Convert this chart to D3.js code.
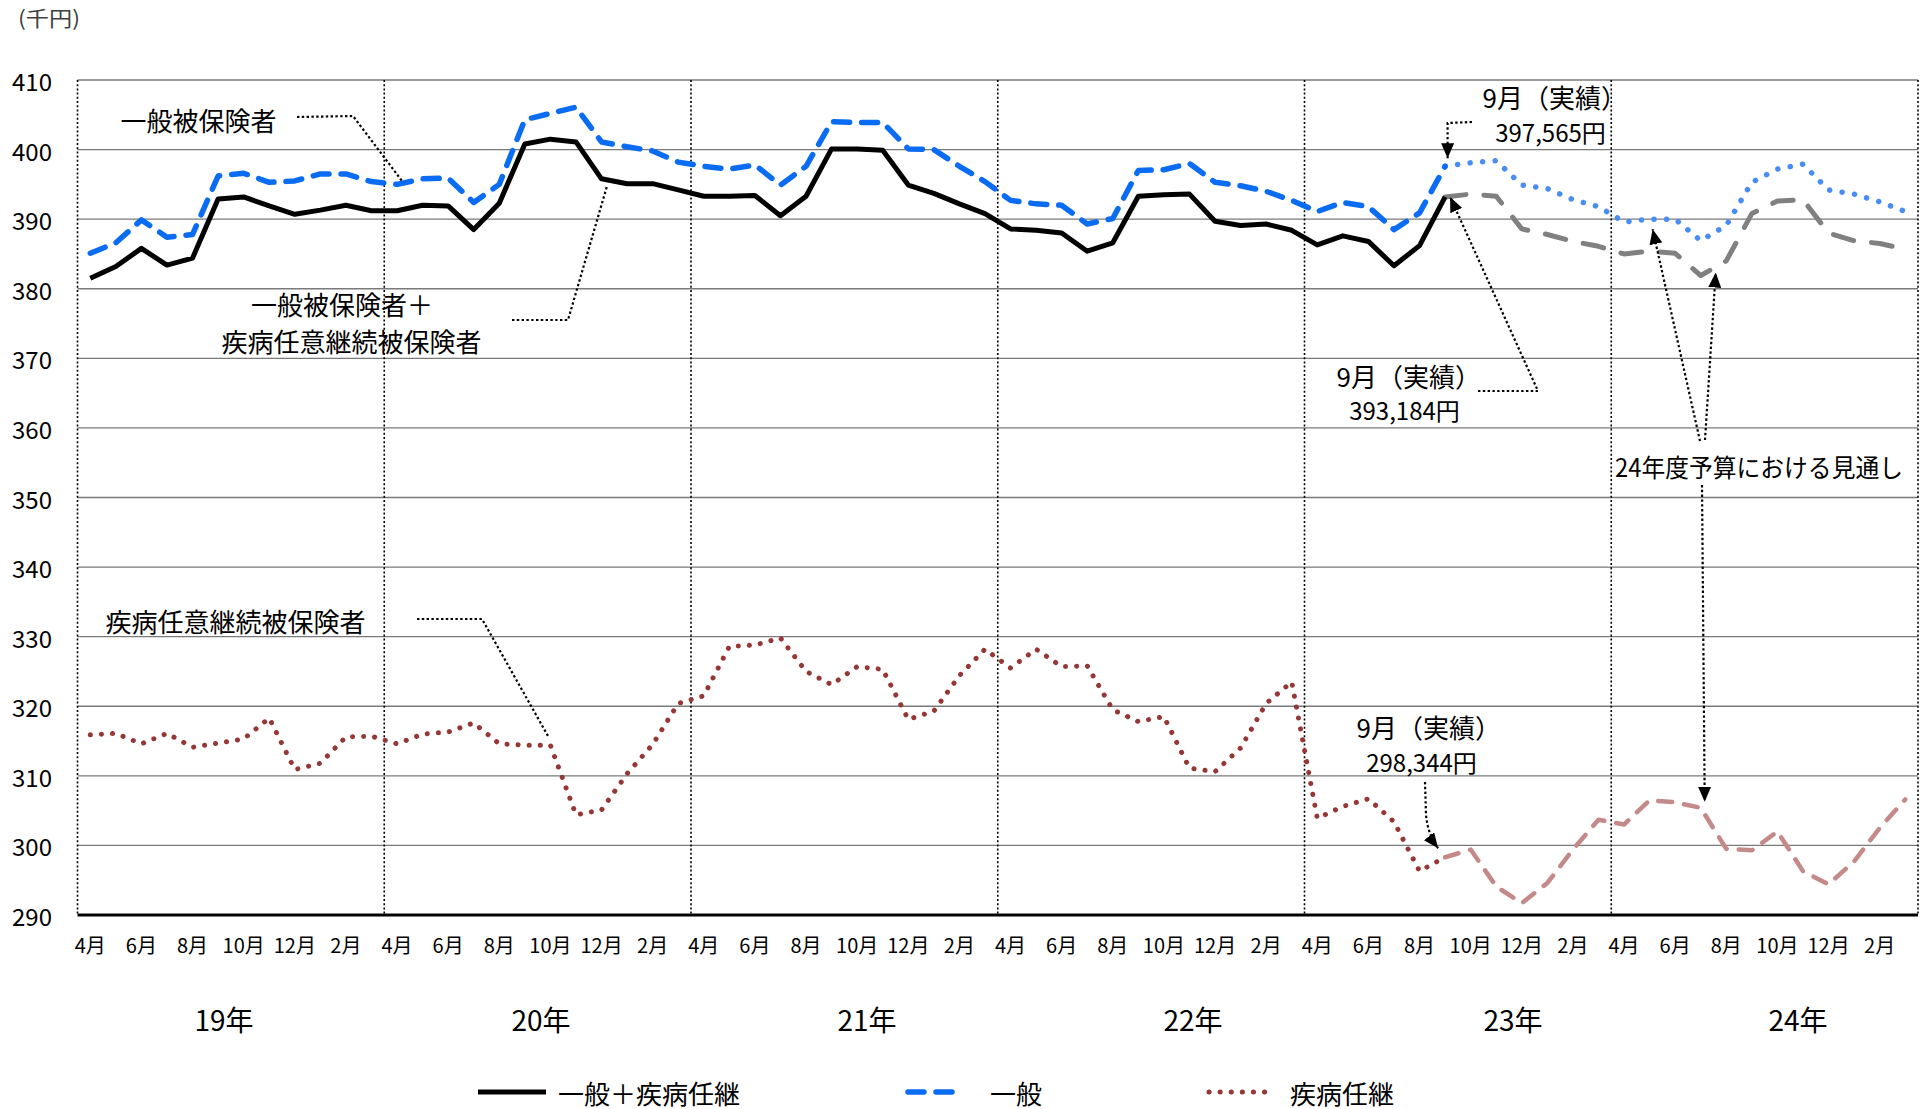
<!DOCTYPE html>
<html><head><meta charset="utf-8">
<script src="https://cdn.jsdelivr.net/npm/d3@7"></script>
<style>
body{margin:0;background:#fff;}
text{font-family:"Noto Sans CJK JP","Noto Sans",sans-serif;fill:#000;}
</style>
</head><body>
<svg id="chart" width="1928" height="1109"></svg>
<script>
// ---------- data ----------
const fiscalYears = ["19年","20年","21年","22年","23年","24年"];
const monthNames = ["4月","5月","6月","7月","8月","9月","10月","11月","12月","1月","2月","3月"];
const tickMonths = ["4月","6月","8月","10月","12月","2月"];
const yTickValues = [290,300,310,320,330,340,350,360,370,380,390,400,410];
const categories = fiscalYears.flatMap(fy => monthNames.map(m => fy + m));

// 実績 (19年4月 ～ 23年9月), 千円
const totalActual = [381.5,383.2,385.8,383.4,384.4,392.9,393.2,391.9,390.7,391.3,392.0,391.2,
  391.2,392.0,391.9,388.5,392.3,400.8,401.5,401.1,395.8,395.1,395.1,394.2,
  393.3,393.3,393.4,390.5,393.3,400.1,400.1,399.9,394.9,393.7,392.2,390.8,
  388.6,388.4,388.0,385.4,386.6,393.3,393.5,393.6,389.7,389.1,389.3,388.4,
  386.3,387.6,386.8,383.3,386.2,393.2];
const generalActual = [385.1,386.6,389.9,387.4,387.8,396.2,396.6,395.3,395.5,396.5,396.5,395.4,
  395.0,395.8,395.9,392.4,395.0,404.3,405.2,406.1,401.1,400.4,399.8,398.2,
  397.6,397.2,397.8,394.9,397.6,404.0,403.9,403.9,400.1,400.0,397.6,395.4,
  392.7,392.2,392.0,389.3,390.1,397.0,397.1,398.0,395.3,394.8,394.0,392.7,
  391.1,392.4,391.8,388.5,390.9,397.6];
const voluntaryActual = [315.9,316.1,314.6,316.1,314.1,314.7,315.3,318.3,310.9,311.8,315.6,315.7,
  314.6,316.0,316.3,317.6,314.6,314.4,314.4,304.4,305.1,310.3,314.5,320.4,
  321.5,328.6,328.8,329.8,325.0,323.1,325.7,325.3,318.1,319.3,324.4,328.2,
  325.5,328.2,325.7,325.8,319.5,317.8,318.5,311.1,310.6,314.0,320.4,323.5,
  303.9,305.6,306.7,303.4,296.3,298.3];
// 24年度予算における見通し (23年9月 ～ 25年3月)
const forecastStartCategory = "23年9月";
const totalForecast = [393.2,393.6,393.3,388.6,387.8,386.8,386.1,385.0,385.4,385.1,381.9,384.0,390.8,392.6,392.8,388.0,386.9,386.5,385.7];
const generalForecast = [397.6,398.1,398.4,394.9,394.4,392.8,391.8,389.6,390.0,390.0,386.9,389.1,395.3,397.2,397.9,394.2,393.6,392.5,391.1];
const voluntaryForecast = [298.3,299.4,294.1,291.7,294.6,299.4,303.7,303.0,306.5,306.2,305.4,299.5,299.3,302.0,296.3,294.4,297.7,302.5,306.6];
// 9月実績 (円)
const septemberActualYen = [397565, 393184, 298344]; // 一般, 一般+疾病任継, 疾病任継
const legendNames = ["一般＋疾病任継","一般","疾病任継"];

// ---------- layout ----------
const W = 1928, H = 1109;
const svg = d3.select("#chart");
svg.append("rect").attr("width",W).attr("height",H).attr("fill","#fff");
const x = d3.scaleBand().domain(categories).range([77.5, 1918]).paddingInner(0).paddingOuter(0);
const y = d3.scaleLinear().domain([290, 410]).range([915, 80]);
const cx = c => x(c) + x.bandwidth()/2;
const fStart = categories.indexOf(forecastStartCategory);

const defs = svg.append("defs");
defs.append("marker").attr("id","arrow").attr("viewBox","0 0 10 10")
  .attr("refX",10).attr("refY",5).attr("markerWidth",15).attr("markerHeight",13)
  .attr("markerUnits","userSpaceOnUse").attr("orient","auto").attr("preserveAspectRatio","none")
  .append("path").attr("d","M0,0 L10,5 L0,10 z").attr("fill","#000");

// gridlines
svg.append("g").selectAll("line").data(yTickValues.filter(v => v > 290)).join("line")
  .attr("x1", 77.5).attr("x2", 1918).attr("y1", d => y(d)).attr("y2", d => y(d))
  .attr("stroke", "#7a7a7a").attr("stroke-width", 1.3);

// vertical dotted lines (borders + fiscal year separators)
const vx = [77.5, ...fiscalYears.slice(1).map(fy => x(fy + "4月")), 1918];
svg.append("g").selectAll("line").data(vx).join("line")
  .attr("x1", d => d).attr("x2", d => d).attr("y1", y(410)).attr("y2", y(290))
  .attr("stroke", "#000").attr("stroke-width", 1.6).attr("stroke-dasharray", "2,2.2");

// bottom axis line
svg.append("line").attr("x1",77.5).attr("x2",1918).attr("y1",y(290)).attr("y2",y(290))
  .attr("stroke","#000").attr("stroke-width",3);

// y axis labels
const yAxis = d3.axisLeft(y).tickValues(yTickValues).tickSize(0).tickPadding(0);
const gy = svg.append("g").attr("transform","translate(52,0)").call(yAxis);
gy.select(".domain").remove();
gy.selectAll("text").attr("font-size",24).attr("dy",null).attr("dominant-baseline","central")
  .style("font-family","'Noto Sans CJK JP'");

// x axis month labels
const xAxis = d3.axisBottom(x)
  .tickValues(categories.filter(c => tickMonths.includes(c.slice(3))))
  .tickFormat(c => c.slice(3)).tickSize(0).tickPadding(0);
const gx = svg.append("g").attr("transform","translate(0,944)").call(xAxis);
gx.select(".domain").remove();
gx.selectAll("text").attr("font-size",20).attr("y",0).attr("dy",null)
  .attr("dominant-baseline","central").style("font-family","'Noto Sans CJK JP'");

// year labels (text boxes in the original)
const yearLabelX = [224, 541, 867, 1193, 1513, 1798];
svg.append("g").selectAll("text").data(fiscalYears).join("text")
  .attr("x",(d,i) => yearLabelX[i]).attr("y",1019).attr("text-anchor","middle")
  .attr("dominant-baseline","central").attr("font-size",28).text(d => d);

// unit
svg.append("text").attr("x",18).attr("y",17).attr("dominant-baseline","central")
  .attr("font-size",21).attr("textLength",62).attr("lengthAdjust","spacingAndGlyphs")
  .style("fill","#404040").text("(千円)");

// ---------- series ----------
const line = d3.line().x(d => cx(d.c)).y(d => y(d.v));
const actual = arr => arr.map((v,i) => ({c: categories[i], v}));
const forecast = arr => arr.map((v,i) => ({c: categories[fStart + i], v}));

const styles = {
  voluntaryActual:   {stroke:"#953735", w:5,   dash:"0.1,11",  cap:"round"},
  voluntaryForecast: {stroke:"#c48a89", w:4.5, dash:"14,12",   cap:"round"},
  totalForecast:     {stroke:"#808080", w:5,   dash:"21,18",   cap:"round"},
  generalForecast:   {stroke:"#4a8df2", w:5.5, dash:"0.1,12.5",cap:"round"},
  totalActual:       {stroke:"#000000", w:5,   dash:null,      cap:"butt"},
  generalActual:     {stroke:"#0a6cf2", w:5.5, dash:"16,12",   cap:"round"}
};
const seriesList = [
  ["voluntaryActual", actual(voluntaryActual)],
  ["voluntaryForecast", forecast(voluntaryForecast)],
  ["totalForecast", forecast(totalForecast)],
  ["generalForecast", forecast(generalForecast)],
  ["totalActual", actual(totalActual)],
  ["generalActual", actual(generalActual)]
];
svg.append("g").selectAll("path").data(seriesList).join("path")
  .attr("d", d => line(d[1])).attr("fill","none")
  .attr("stroke", d => styles[d[0]].stroke).attr("stroke-width", d => styles[d[0]].w)
  .attr("stroke-dasharray", d => styles[d[0]].dash).attr("stroke-linecap", d => styles[d[0]].cap)
  .attr("stroke-linejoin","round");

// ---------- annotations ----------
const ann = svg.append("g");
function label(txt, xx, yy, size, anchor, len){
  const t = ann.append("text").attr("x",xx).attr("y",yy).attr("font-size",size)
    .attr("text-anchor",anchor||"start").attr("dominant-baseline","central").text(txt);
  if (len) t.attr("textLength",len).attr("lengthAdjust","spacingAndGlyphs");
}
function leader(d, arrow){
  const p = ann.append("path").attr("d",d).attr("fill","none").attr("stroke","#000")
    .attr("stroke-width",2.2).attr("stroke-dasharray","2.4,2.4");
  if (arrow) p.attr("marker-end","url(#arrow)");
}
const yen = v => d3.format(",")(v) + "円";
const sepX = cx(forecastStartCategory);

label("一般被保険者", 198.5, 119, 26, "middle");
leader("M297,117 L353,116 L402,181");

label("一般被保険者＋", 342, 303, 26, "middle");
label("疾病任意継続被保険者", 351.5, 340, 26, "middle");
leader("M512,320 L568,320 L607,186");

label("疾病任意継続被保険者", 235.5, 620, 26, "middle");
leader("M417,619 L482,619 L548,736");

// 一般 9月実績
label("9月（実績）", 1482.5, 96, 26);
label(yen(septemberActualYen[0]), 1550.5, 131, 24, "middle");
leader(`M1472,122 L${sepX+2.5},123 L${sepX+2.5},${y(generalActual[generalActual.length-1])-8}`, true);

// 一般+疾病任継 9月実績
label("9月（実績）", 1336.5, 375, 26);
label(yen(septemberActualYen[1]), 1404.5, 409, 24, "middle");
leader(`M1478,391 L1538,391 L${sepX+5},${y(totalActual[totalActual.length-1])}`, true);

// 疾病任継 9月実績
label("9月（実績）", 1356.5, 726, 26);
label(yen(septemberActualYen[2]), 1421.5, 761, 24, "middle");
leader(`M1425,782 L1426,815 Q1428,835 ${sepX-7},${y(voluntaryActual[voluntaryActual.length-1])-9}`, true);

// 24年度予算における見通し
label("24年度予算における見通し", 1615, 466, 25, "start", 288);
const jul24 = "24年7月", may24 = "24年5月";
const jIdx = categories.indexOf(jul24) - fStart, mIdx = categories.indexOf(may24) - fStart;
leader(`M1700,441 L${cx(may24)+3},${y(generalForecast[mIdx])+10}`, true);
leader(`M1705,440 L${cx(jul24)+15},${y(totalForecast[jIdx])-3}`, true);
leader(`M1702,485 L${cx(jul24)+4},${y(voluntaryForecast[jIdx])-6}`, true);

// ---------- legend ----------
const lg = svg.append("g");
const legendItems = [
  {name: legendNames[0], x1: 478, x2: 546, tx: 558, s: styles.totalActual},
  {name: legendNames[1], x1: 908, x2: 963, tx: 990, s: styles.generalActual},
  {name: legendNames[2], x1: 1209, x2: 1273, tx: 1290, s: styles.voluntaryActual}
];
legendItems.forEach(it => {
  lg.append("line").attr("x1",it.x1).attr("x2",it.x2).attr("y1",1092).attr("y2",1092)
    .attr("stroke",it.s.stroke).attr("stroke-width",it.s.w)
    .attr("stroke-dasharray",it.s.dash).attr("stroke-linecap",it.s.cap);
  lg.append("text").attr("x",it.tx).attr("y",1092).attr("font-size",26)
    .attr("dominant-baseline","central").text(it.name);
});
</script>
</body></html>
